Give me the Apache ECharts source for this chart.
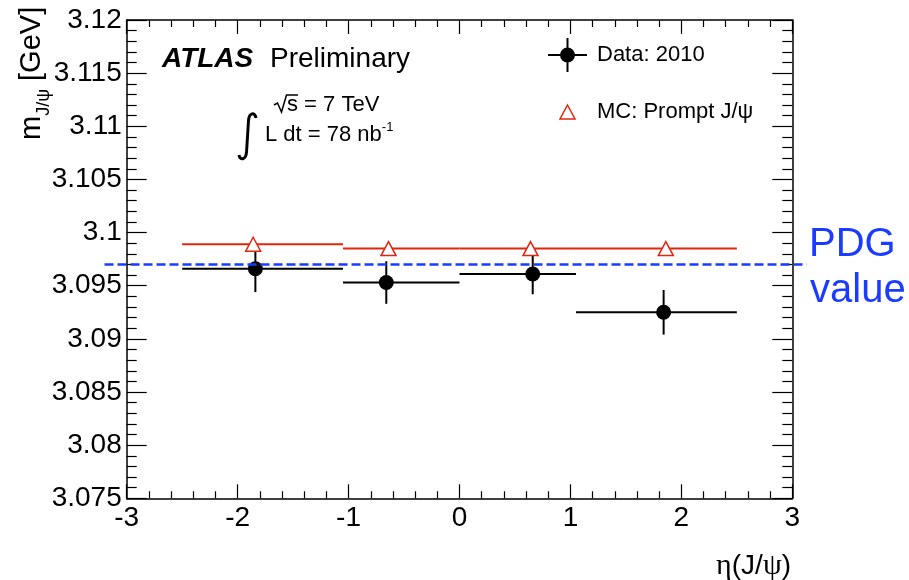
<!DOCTYPE html>
<html>
<head>
<meta charset="utf-8">
<script src="https://cdn.jsdelivr.net/npm/echarts@6/dist/echarts.min.js"></script>
<style>
  html, body { margin: 0; padding: 0; background: #fff; }
  #chart { width: 909px; height: 580px; }
</style>
</head>
<body>
<div id="chart"></div>
<script>
// J/psi mass in bins of pseudorapidity: 2010 data vs prompt MC
const binLow  = [-2.5, -1.05, 0.0, 1.05];
const binHigh = [-1.05, 0.0, 1.05, 2.5];
const dataEta  = [-1.84, -0.66, 0.66, 1.84];
const dataMass = [3.0966, 3.0953, 3.0961, 3.0925];
const dataErr  = [0.0022, 0.0020, 0.0019, 0.0021];
const mcEta  = [-1.86, -0.64, 0.64, 1.86];
const mcMass = [3.0989, 3.0985, 3.0985, 3.0985];
const pdgMass = 3.0970;
const pdgSpan = [-3.2, 3.13];
const yTicks = ['3.075', '3.08', '3.085', '3.09', '3.095', '3.1', '3.105', '3.11', '3.115', '3.12'];
const xTicks = ['-3', '-2', '-1', '0', '1', '2', '3'];

const FONT = '"Liberation Sans", Arial, Helvetica, sans-serif';
const SERIF = '"Liberation Serif", "Times New Roman", serif';
const RED = '#e3250e';
const BLUE = '#1b3cff';

const dataRows = dataEta.map((e, i) => [binLow[i], binHigh[i], e, dataMass[i], dataErr[i]]);
const mcRows = mcEta.map((e, i) => [binLow[i], binHigh[i], e, mcMass[i]]);

function fmtY(v) {
  const idx = Math.round((v - 3.075) / 0.005);
  return yTicks[idx] !== undefined ? yTicks[idx] : '';
}
function fmtX(v) {
  const idx = Math.round(v + 3);
  return xTicks[idx] !== undefined ? xTicks[idx] : '';
}

function renderData(params, api) {
  const lo = api.coord([api.value(0), api.value(3)]);
  const hi = api.coord([api.value(1), api.value(3)]);
  const c = api.coord([api.value(2), api.value(3)]);
  const top = api.coord([api.value(2), api.value(3) + api.value(4)]);
  const bot = api.coord([api.value(2), api.value(3) - api.value(4)]);
  const ls = { stroke: '#000', lineWidth: 2 };
  return {
    type: 'group',
    children: [
      { type: 'line', shape: { x1: lo[0], y1: lo[1], x2: hi[0], y2: hi[1] }, style: ls },
      { type: 'line', shape: { x1: c[0], y1: top[1], x2: c[0], y2: bot[1] }, style: ls },
      { type: 'circle', shape: { cx: c[0], cy: c[1], r: 7.5 }, style: { fill: '#000' } }
    ]
  };
}

function renderMC(params, api) {
  const lo = api.coord([api.value(0), api.value(3)]);
  const hi = api.coord([api.value(1), api.value(3)]);
  const c = api.coord([api.value(2), api.value(3)]);
  const h = 7;
  return {
    type: 'group',
    children: [
      { type: 'line', shape: { x1: lo[0], y1: lo[1], x2: hi[0], y2: hi[1] }, style: { stroke: RED, lineWidth: 2.2 } },
      { type: 'polygon', shape: { points: [[c[0], c[1] - h], [c[0] + 7.5, c[1] + h], [c[0] - 7.5, c[1] + h]] },
        style: { fill: '#fff', stroke: RED, lineWidth: 1.5 } }
    ]
  };
}

function renderPDG(params, api) {
  const a = api.coord([pdgSpan[0], api.value(0)]);
  const b = api.coord([pdgSpan[1], api.value(0)]);
  return {
    type: 'line',
    shape: { x1: a[0], y1: a[1], x2: b[0], y2: b[1] },
    style: { stroke: BLUE, lineWidth: 2.5, lineDash: [9, 4] }
  };
}

const axisLineStyle = { color: '#000', width: 1.5 };
const xCommon = {
  type: 'value', min: -3, max: 3, interval: 1,
  splitLine: { show: false },
  axisLine: { show: true, onZero: false, lineStyle: axisLineStyle },
  axisTick: { show: true, inside: true, length: 14, lineStyle: { color: '#000', width: 1.2 } },
  minorTick: { show: true, splitNumber: 5, length: 7, lineStyle: { color: '#000', width: 1.2 } },
  minorSplitLine: { show: false }
};
const yCommon = {
  type: 'value', min: 3.075, max: 3.12, interval: 0.005,
  splitLine: { show: false },
  axisLine: { show: true, onZero: false, lineStyle: axisLineStyle },
  axisTick: { show: true, inside: true, length: 20, lineStyle: { color: '#000', width: 1.2 } },
  minorTick: { show: true, splitNumber: 5, length: 10, lineStyle: { color: '#000', width: 1.2 } },
  minorSplitLine: { show: false }
};

const chart = echarts.init(document.getElementById('chart'), null, { renderer: 'canvas' });

const option = {
  backgroundColor: '#fff',
  animation: false,
  grid: { left: 126.7, right: 116.7, top: 20, bottom: 81.7, containLabel: false },
  xAxis: [
    Object.assign({}, xCommon, {
      position: 'bottom',
      axisLabel: { show: true, formatter: fmtX, fontFamily: FONT, fontSize: 28, color: '#000', margin: 6 }
    }),
    Object.assign({}, xCommon, { position: 'top', axisLabel: { show: false } })
  ],
  yAxis: [
    Object.assign({}, yCommon, {
      position: 'left',
      axisLabel: { show: true, formatter: fmtY, fontFamily: FONT, fontSize: 28, color: '#000', margin: 5 }
    }),
    Object.assign({}, yCommon, { position: 'right', axisLabel: { show: false } })
  ],
  series: [
    { type: 'custom', name: 'Data: 2010', xAxisIndex: 0, yAxisIndex: 0, z: 2,
      encode: { x: [0, 1, 2], y: [3] }, data: dataRows, renderItem: renderData, clip: false },
    { type: 'custom', name: 'MC: Prompt J/ψ', xAxisIndex: 0, yAxisIndex: 0, z: 3,
      encode: { x: [0, 1, 2], y: [3] }, data: mcRows, renderItem: renderMC, clip: false },
    { type: 'custom', name: 'PDG value', xAxisIndex: 0, yAxisIndex: 0, z: 4,
      encode: { y: 0 }, data: [[pdgMass]], renderItem: renderPDG, clip: false }
  ],
  graphic: [
    // y-axis title, reading bottom to top
    { type: 'text', x: 32, y: 140, rotation: Math.PI / 2, z: 10,
      style: {
        text: '{m|m}{s|J/ψ}{g| [GeV]}', align: 'left', verticalAlign: 'middle', fill: '#000',
        rich: {
          m: { fontFamily: FONT, fontSize: 29, lineHeight: 42, verticalAlign: 'middle' },
          g: { fontFamily: FONT, fontSize: 29, lineHeight: 42, verticalAlign: 'middle' },
          s: { fontFamily: FONT, fontSize: 18, lineHeight: 19, verticalAlign: 'bottom' }
        }
      } },
    // x-axis title
    { type: 'text', x: 791, y: 566, z: 10,
      style: {
        text: '{g|η}{s|(J/}{g|ψ}{s|)}', align: 'right', verticalAlign: 'middle', fill: '#000',
        rich: {
          g: { fontFamily: SERIF, fontSize: 30 },
          s: { fontFamily: FONT, fontSize: 28 }
        }
      } },
    // experiment label
    { type: 'text', x: 162, y: 59, z: 10,
      style: { text: 'ATLAS', font: 'italic bold 28px ' + FONT, fill: '#000', align: 'left', verticalAlign: 'middle' } },
    { type: 'text', x: 270, y: 59, z: 10,
      style: { text: 'Preliminary', font: '28px ' + FONT, fill: '#000', align: 'left', verticalAlign: 'middle' } },
    // energy: radical sign drawn as a stroke, then the text
    { type: 'polyline', z: 10,
      shape: { points: [[274, 105], [277.5, 103], [281.5, 112], [286.5, 95], [298, 95]] },
      style: { stroke: '#000', lineWidth: 1.5, fill: null } },
    { type: 'text', x: 287, y: 105, z: 10,
      style: { text: 's = 7 TeV', font: '22px ' + FONT, fill: '#000', align: 'left', verticalAlign: 'middle' } },
    // integral sign
    { type: 'bezierCurve', z: 10,
      shape: { x1: 256, y1: 118, cpx1: 255, cpy1: 112, cpx2: 249, cpy2: 112, x2: 248.5, y2: 121 },
      style: { stroke: '#000', lineWidth: 3, fill: null } },
    { type: 'line', z: 10, shape: { x1: 248.5, y1: 120.5, x2: 246.5, y2: 152.5 },
      style: { stroke: '#000', lineWidth: 3 } },
    { type: 'bezierCurve', z: 10,
      shape: { x1: 246.5, y1: 152, cpx1: 246, cpy1: 160, cpx2: 240, cpy2: 161, x2: 239, y2: 155 },
      style: { stroke: '#000', lineWidth: 3, fill: null } },
    { type: 'text', x: 265, y: 134.5, z: 10,
      style: {
        text: 'L dt = 78 nb{sup|-1}', font: '22px ' + FONT, fill: '#000', align: 'left', verticalAlign: 'middle',
        rich: { sup: { fontFamily: FONT, fontSize: 13, verticalAlign: 'top', lineHeight: 27 } }
      } },
    // legend: data
    { type: 'line', z: 10, shape: { x1: 548, y1: 55, x2: 587, y2: 55 }, style: { stroke: '#000', lineWidth: 2 } },
    { type: 'line', z: 10, shape: { x1: 567.5, y1: 38, x2: 567.5, y2: 72 }, style: { stroke: '#000', lineWidth: 2 } },
    { type: 'circle', z: 10, shape: { cx: 567.5, cy: 55, r: 7.5 }, style: { fill: '#000' } },
    { type: 'text', x: 597, y: 55, z: 10,
      style: { text: 'Data: 2010', font: '22px ' + FONT, fill: '#000', align: 'left', verticalAlign: 'middle' } },
    // legend: MC
    { type: 'polygon', z: 10, shape: { points: [[567.5, 105], [575, 119], [560, 119]] },
      style: { fill: '#fff', stroke: RED, lineWidth: 1.5 } },
    { type: 'text', x: 597, y: 112, z: 10,
      style: { text: 'MC: Prompt J/ψ', font: '22px ' + FONT, fill: '#000', align: 'left', verticalAlign: 'middle' } },
    // reference mass annotation
    { type: 'text', x: 809, y: 245, z: 10,
      style: { text: 'PDG', font: '40px ' + FONT, fill: BLUE, align: 'left', verticalAlign: 'middle' } },
    { type: 'text', x: 810, y: 291, z: 10,
      style: { text: 'value', font: '40px ' + FONT, fill: BLUE, align: 'left', verticalAlign: 'middle' } }
  ]
};

chart.setOption(option);
</script>
</body>
</html>
